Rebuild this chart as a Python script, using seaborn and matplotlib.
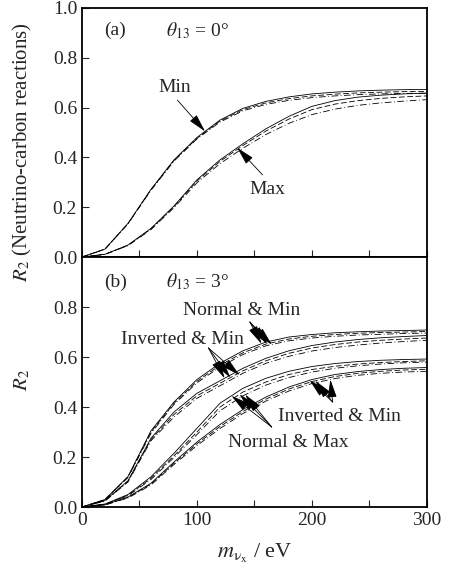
import numpy as np
import pandas as pd
import matplotlib
matplotlib.use('Agg')
import matplotlib.pyplot as plt
from matplotlib.ticker import MultipleLocator
import seaborn as sns

# ─── Data ─────────────────────────────────────────────────────────────────────
masses = [0, 20, 40, 60, 80, 100, 120, 140, 160, 180, 200, 220, 240, 260, 280, 300]
variants = ['solid', 'dashed', 'dashdot']

# panel (a): theta13 = 0
a_min_solid   = [0, .032, .135, .272, .390, .480, .550, .597, .625, .643, .655, .662, .667, .670, .672, .673]
a_min_dashed  = [0, .032, .134, .270, .388, .477, .546, .592, .619, .636, .647, .654, .659, .662, .664, .665]
a_min_dashdot = [0, .031, .133, .268, .385, .474, .542, .587, .613, .629, .640, .647, .652, .655, .657, .658]
a_max_solid   = [0, .011, .048, .115, .205, .310, .390, .455, .515, .565, .605, .628, .642, .650, .655, .658]
a_max_dashed  = [0, .011, .047, .113, .202, .305, .384, .448, .506, .554, .592, .614, .628, .637, .643, .647]
a_max_dashdot = [0, .010, .046, .110, .198, .298, .375, .437, .492, .537, .572, .594, .609, .619, .626, .632]

# panel (b): theta13 = 3
nm_solid   = [0, .030, .122, .305, .420, .510, .575, .625, .660, .680, .690, .697, .701, .704, .706, .708]
nm_dashed  = [0, .030, .120, .300, .415, .503, .567, .617, .652, .672, .683, .690, .695, .698, .700, .702]
nm_dashdot = [0, .029, .118, .295, .410, .497, .560, .610, .645, .665, .676, .683, .688, .691, .694, .696]
im_solid   = [0, .026, .105, .275, .380, .455, .505, .555, .595, .625, .646, .660, .670, .677, .682, .686]
im_dashed  = [0, .025, .103, .270, .370, .445, .495, .545, .585, .615, .636, .650, .660, .667, .672, .676]
im_dashdot = [0, .024, .100, .265, .360, .435, .485, .535, .575, .603, .624, .638, .648, .656, .662, .667]
nx_solid   = [0, .012, .050, .121, .215, .315, .415, .475, .515, .543, .562, .574, .582, .587, .590, .592]
nx_dashed  = [0, .011, .047, .115, .205, .300, .400, .460, .500, .530, .550, .563, .572, .578, .582, .585]
nx_dashdot = [0, .011, .045, .110, .198, .290, .385, .445, .488, .518, .540, .555, .565, .572, .577, .580]
ix_solid   = [0, .009, .040, .095, .180, .260, .330, .390, .440, .480, .510, .530, .542, .550, .555, .558]
ix_dashed  = [0, .009, .038, .092, .175, .253, .322, .382, .432, .472, .502, .522, .535, .543, .548, .551]
ix_dashdot = [0, .008, .036, .088, .170, .246, .314, .374, .424, .464, .494, .514, .527, .535, .540, .543]

panel_a = {'min': [a_min_solid, a_min_dashed, a_min_dashdot],
           'max': [a_max_solid, a_max_dashed, a_max_dashdot]}
panel_b = {'nm': [nm_solid, nm_dashed, nm_dashdot],
           'im': [im_solid, im_dashed, im_dashdot],
           'nx': [nx_solid, nx_dashed, nx_dashdot],
           'ix': [ix_solid, ix_dashed, ix_dashdot]}


def to_long(groups):
    rows = []
    for g, curves in groups.items():
        for v, vals in zip(variants, curves):
            for m, r in zip(masses, vals):
                rows.append((g, v, m, r))
    return pd.DataFrame(rows, columns=['group', 'variant', 'm', 'R'])


df_a = to_long(panel_a)
df_b = to_long(panel_b)

# ─── Style ────────────────────────────────────────────────────────────────────
sns.set_style('ticks')
plt.rcParams.update({
    'font.family': 'Liberation Serif',
    'mathtext.fontset': 'stix',
    'font.size': 14,
    'axes.linewidth': 1.3,
    'axes.edgecolor': 'black',
})

dash_map = {'solid': '', 'dashed': (7, 3), 'dashdot': (8, 3, 1, 3)}

fig = plt.figure(figsize=(4.59, 5.66), dpi=100)
ax_a = fig.add_axes([0.1786, 0.5459, 0.7516, 0.4400])
ax_b = fig.add_axes([0.1786, 0.1042, 0.7516, 0.4417])

for ax, df in [(ax_a, df_a), (ax_b, df_b)]:
    sns.lineplot(data=df, x='m', y='R', units='group', estimator=None,
                 style='variant', dashes=dash_map, color='black', lw=0.6,
                 legend=False, ax=ax)
    ax.set_xlim(0, 300)
    ax.set_ylim(0, 1.0)
    ax.xaxis.set_major_locator(MultipleLocator(100))
    ax.xaxis.set_minor_locator(MultipleLocator(50))
    ax.tick_params(axis='both', which='both', direction='in', labelsize=14,
                   top=False, right=False, width=0.8)
    ax.tick_params(axis='both', which='major', length=5)
    ax.tick_params(axis='x', which='minor', length=5)
    ax.set_xlabel('')
    ax.set_ylabel('')

ax_a.set_yticks([0, 0.2, 0.4, 0.6, 0.8, 1.0])
ax_a.set_yticklabels(['0.0', '0.2', '0.4', '0.6', '0.8', '1.0'])
ax_a.tick_params(axis='x', labelbottom=False)
ax_b.set_yticks([0, 0.2, 0.4, 0.6, 0.8])
ax_b.set_yticklabels(['0.0', '0.2', '0.4', '0.6', '0.8'])
ax_b.set_xticks([0, 100, 200, 300])

arrow = dict(arrowstyle='-|>,head_length=0.8,head_width=0.2', color='black',
             lw=0.6, shrinkA=0, shrinkB=0)


def point_to(ax, curve, m, tail):
    ax.annotate('', xy=(m, np.interp(m, masses, curve)), xytext=tail,
                arrowprops=arrow)


# panel (a)
ax_a.text(29, 0.91, '(a)', ha='center', va='center', fontsize=14)
ax_a.text(73, 0.91, r'$\theta_{13}$ = 0°', ha='left', va='center', fontsize=14)
ax_a.text(81, 0.68, 'Min', ha='center', va='center', fontsize=14)
point_to(ax_a, a_min_solid, 107, (83, 0.63))
ax_a.text(161, 0.27, 'Max', ha='center', va='center', fontsize=14)
point_to(ax_a, a_max_solid, 135, (157, 0.33))

# panel (b)
ax_b.text(29, 0.90, '(b)', ha='center', va='center', fontsize=14)
ax_b.text(73, 0.90, r'$\theta_{13}$ = 3°', ha='left', va='center', fontsize=14)

ax_b.text(139, 0.788, 'Normal & Min', ha='center', va='center', fontsize=14)
for curve, m in zip(panel_b['nm'], [156, 161, 165]):
    point_to(ax_b, curve, m, (146, 0.74))

ax_b.text(87, 0.672, 'Inverted & Min', ha='center', va='center', fontsize=14)
for curve, m in zip(panel_b['im'], [124, 129, 137]):
    point_to(ax_b, curve, m, (110, 0.636))

ax_b.text(179, 0.26, 'Normal & Max', ha='center', va='center', fontsize=14)
for curve, m in zip(panel_b['nx'], [130, 137, 142]):
    point_to(ax_b, curve, m, (165, 0.32))

ax_b.text(224, 0.364, 'Inverted & Min', ha='center', va='center', fontsize=14)
for curve, m in zip(panel_b['ix'], [198, 203, 216]):
    point_to(ax_b, curve, m, (218, 0.42))

# axis labels
fig.text(22 / 459, 1 - 152 / 566, r'$R_2$ (Neutrino-carbon reactions)',
         rotation=90, ha='center', va='center', fontsize=15)
fig.text(22 / 459, 1 - 380 / 566, r'$R_2$', rotation=90, ha='center',
         va='center', fontsize=15)
fig.text(255 / 459, 1 - 553 / 566, r'$m_{\mathrm{\nu_x}}$ / eV',
         ha='center', va='center', fontsize=16)

fig.savefig('out.png', dpi=100)
